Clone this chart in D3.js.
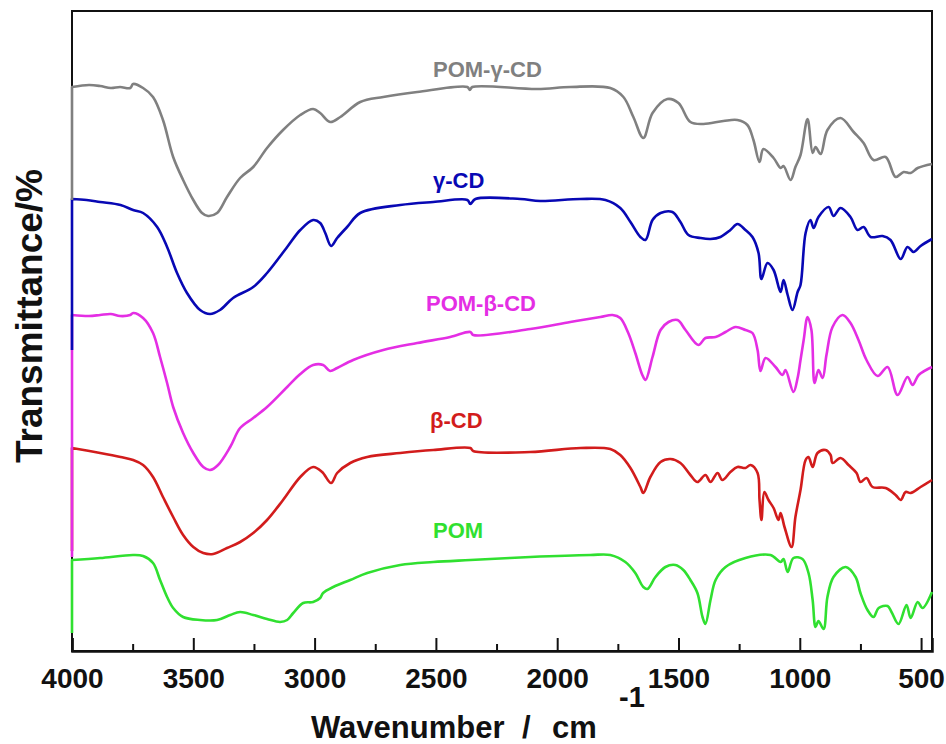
<!DOCTYPE html>
<html>
<head>
<meta charset="utf-8">
<script src="https://cdn.jsdelivr.net/npm/d3@7"></script>
<style>
  body { margin: 0; background: #fff; }
  svg text { font-family: "Liberation Sans", Arial, sans-serif; font-weight: bold; }
</style>
</head>
<body>
<div class="chart"></div>
<script>
// FTIR spectra, [wavenumber cm-1, transmittance (a.u., offset per trace)]
var pomGammaCD = [[4000,451],[4000,564],[3930,566],[3884,565],[3840,563],[3802,564],[3760,563],[3748,567],[3707,563],[3666,554],[3625,531],[3583,494],[3542,471],[3500,451],[3464,438],[3439,435],[3402,438],[3361,454],[3307,473],[3253,484],[3196,503],[3130,521],[3059,536],[3006,542],[2977,538],[2936,529],[2894,534],[2812,549],[2717,554],[2577,559],[2370,564],[2360,561],[2350,564],[2082,562],[1946,564],[1781,563],[1727,554],[1686,534],[1645,513],[1607,538],[1546,552],[1500,548],[1451,529],[1397,527],[1315,530],[1257,531],[1216,526],[1191,511],[1166,489],[1150,502],[1108,493],[1079,483],[1067,485],[1038,471],[1018,484],[997,496],[968,532],[947,498],[935,504],[914,497],[886,521],[832,533],[778,519],[737,508],[696,491],[646,494],[605,474],[572,479],[543,478],[514,483],[455,487]];

var gammaCD = [[4000,301],[4000,452],[3940,451],[3884,449],[3800,446],[3748,441],[3707,438],[3649,424],[3608,404],[3567,378],[3526,358],[3472,341],[3431,337],[3390,341],[3336,353],[3253,364],[3196,378],[3113,404],[3059,421],[3006,431],[2977,428],[2956,418],[2932,405],[2907,413],[2866,424],[2812,438],[2647,446],[2511,449],[2370,451],[2358,447],[2337,452],[2152,452],[2070,450],[1904,452],[1801,451],[1740,443],[1698,429],[1657,414],[1636,411],[1607,431],[1574,438],[1525,439],[1492,429],[1459,416],[1409,413],[1368,412],[1327,414],[1286,421],[1257,427],[1224,421],[1195,414],[1170,398],[1158,372],[1133,388],[1108,381],[1079,359],[1067,371],[1050,356],[1030,341],[1009,359],[997,366],[976,418],[956,431],[943,423],[923,434],[881,444],[861,435],[832,443],[791,434],[762,421],[737,424],[708,414],[659,415],[626,411],[584,392],[556,404],[531,399],[502,405],[455,412]];

var pomBetaCD = [[4000,94],[4000,336],[3930,335],[3884,336],[3840,337],[3802,335],[3760,336],[3748,338],[3707,333],[3666,318],[3637,294],[3608,268],[3583,244],[3542,218],[3500,198],[3459,184],[3431,181],[3398,186],[3348,204],[3307,223],[3253,233],[3196,244],[3113,264],[3059,277],[3006,286],[2965,286],[2936,280],[2907,283],[2841,291],[2717,301],[2577,308],[2441,314],[2358,319],[2346,316],[2111,322],[1946,329],[1822,334],[1772,336],[1740,333],[1707,318],[1678,298],[1649,276],[1636,271],[1607,294],[1574,321],[1541,329],[1504,331],[1471,321],[1418,306],[1389,313],[1347,314],[1306,319],[1265,324],[1224,321],[1195,318],[1174,301],[1162,280],[1141,293],[1100,284],[1071,276],[1059,281],[1026,259],[1009,273],[997,291],[984,311],[968,334],[952,321],[939,268],[923,281],[906,273],[890,296],[865,324],[824,336],[791,328],[758,311],[725,291],[679,275],[638,284],[597,256],[556,274],[535,266],[510,276],[455,284]];

var betaCD = [[4000,100],[4000,203],[3884,198],[3800,194],[3748,191],[3707,186],[3666,174],[3625,154],[3583,134],[3542,116],[3500,104],[3459,98],[3418,97],[3361,103],[3307,109],[3253,118],[3196,131],[3130,151],[3059,174],[3006,184],[2969,179],[2932,168],[2907,178],[2853,188],[2783,194],[2647,198],[2511,201],[2358,203],[2346,200],[2111,199],[1904,203],[1781,202],[1740,196],[1698,183],[1657,164],[1645,158],[1616,174],[1574,189],[1533,192],[1492,188],[1451,176],[1422,169],[1389,176],[1368,169],[1339,178],[1319,171],[1286,179],[1257,184],[1224,183],[1203,186],[1174,178],[1166,151],[1158,131],[1146,159],[1129,151],[1108,143],[1088,131],[1079,138],[1063,124],[1034,104],[1018,134],[997,161],[976,191],[964,194],[947,184],[927,198],[894,201],[873,196],[865,188],[832,193],[799,186],[766,178],[750,169],[725,173],[700,164],[646,163],[605,156],[584,151],[564,159],[543,158],[502,164],[455,171]];

var pom = [[4000,18],[4000,91],[3884,93],[3748,96],[3707,95],[3666,88],[3637,71],[3608,54],[3583,43],[3542,34],[3472,31],[3402,31],[3348,36],[3307,39],[3253,36],[3196,32],[3142,29],[3113,31],[3088,38],[3047,48],[3006,49],[2977,53],[2965,58],[2923,64],[2853,71],[2783,78],[2647,86],[2511,89],[2358,91],[2111,94],[1863,96],[1781,96],[1719,89],[1678,78],[1645,64],[1628,62],[1595,74],[1554,84],[1513,86],[1480,81],[1451,71],[1422,58],[1401,34],[1389,27],[1368,51],[1347,71],[1306,84],[1224,93],[1121,96],[1079,89],[1067,92],[1050,79],[1026,93],[989,92],[964,78],[947,51],[935,24],[923,30],[902,22],[886,54],[861,74],[811,84],[770,74],[750,58],[721,41],[696,34],[675,43],[638,45],[622,39],[593,27],[560,46],[543,33],[514,49],[494,43],[455,59]];

var spectra = [pomGammaCD, gammaCD, pomBetaCD, betaCD, pom];
var seriesNames = ["POM-\u03b3-CD", "\u03b3-CD", "POM-\u03b2-CD", "\u03b2-CD", "POM"];
var seriesColors = ["#808080", "#0808b4", "#e42ee4", "#d21c1c", "#30e030"];

var majorTicks = [4000, 3500, 3000, 2500, 2000, 1500, 1000, 500];
var minorTicks = [3750, 3250, 2750, 2250, 1750, 1250, 750];

// Layout
var svgWidth = 946;
var svgHeight = 744;
var margin = { top: 11, right: 14, bottom: 93, left: 72 };
var width = svgWidth - margin.left - margin.right;
var height = svgHeight - margin.top - margin.bottom;

var svg = d3.select(".chart")
  .append("svg")
  .attr("width", svgWidth)
  .attr("height", svgHeight);

var chart = svg.append("g")
  .attr("transform", "translate(" + margin.left + "," + margin.top + ")");

var xScale = d3.scaleLinear().domain([4000, 455]).range([0, width]);
var yScale = d3.scaleLinear().domain([0, 640]).range([height, 0]);

// Frame
chart.append("rect")
  .attr("width", width)
  .attr("height", height)
  .attr("fill", "none")
  .attr("stroke", "#111")
  .attr("stroke-width", 2);

// Spectra: straight rise at 4000, smooth curve after it.
// Bottom trace first so the upper ones sit on top.
var startLine = d3.line()
  .x(function(d) { return xScale(d[0]); })
  .y(function(d) { return yScale(d[1]); });

var smoothLine = d3.line()
  .curve(d3.curveCatmullRom.alpha(0.5))
  .x(function(d) { return xScale(d[0]); })
  .y(function(d) { return yScale(d[1]); });

d3.range(spectra.length).reverse().forEach(function(i) {
  var d = spectra[i];
  var path = startLine(d.slice(0, 2)) + smoothLine(d.slice(1)).replace(/^M/, "L");
  chart.append("path")
    .attr("d", path)
    .attr("fill", "none")
    .attr("stroke", seriesColors[i])
    .attr("stroke-width", 2.6)
    .attr("stroke-linejoin", "round");
});

// Trace labels
var labelPos = [[433, 77], [433, 188], [426, 311], [430, 428], [433, 538]];
seriesNames.forEach(function(name, i) {
  svg.append("text")
    .attr("x", labelPos[i][0])
    .attr("y", labelPos[i][1])
    .attr("fill", seriesColors[i])
    .attr("font-size", "22px")
    .text(name);
});

// Bottom axis with inward ticks
var bottomAxis = d3.axisBottom(xScale)
  .tickValues(majorTicks)
  .tickSize(-13)
  .tickPadding(17)
  .tickFormat(d3.format("d"));

var xAxis = chart.append("g")
  .attr("transform", "translate(0," + height + ")")
  .call(bottomAxis);
xAxis.select(".domain").attr("stroke", "#111").attr("stroke-width", 2.5);
xAxis.selectAll(".tick line").attr("stroke", "#111").attr("stroke-width", 2);
xAxis.selectAll("text")
  .attr("fill", "#111")
  .attr("font-size", "28px")
  .style("font-family", "'Liberation Sans', Arial, sans-serif")
  .style("font-weight", "bold");

var minorAxis = chart.append("g")
  .attr("transform", "translate(0," + height + ")")
  .call(d3.axisBottom(xScale).tickValues(minorTicks).tickSize(-7).tickFormat(""));
minorAxis.select(".domain").remove();
minorAxis.selectAll(".tick line").attr("stroke", "#111").attr("stroke-width", 2);

// Axis titles
var xTitle = svg.append("text")
  .attr("y", 738)
  .attr("font-size", "31px")
  .attr("fill", "#111");
xTitle.append("tspan").attr("x", 311).text("Wavenumber");
xTitle.append("tspan").attr("x", 522).text("/");
xTitle.append("tspan").attr("x", 552).text("cm");

svg.append("text")
  .attr("x", 619)
  .attr("y", 707)
  .attr("font-size", "29px")
  .attr("fill", "#111")
  .text("-1");

svg.append("text")
  .attr("transform", "translate(42,316) rotate(-90)")
  .attr("text-anchor", "middle")
  .attr("font-size", "37px")
  .attr("fill", "#111")
  .text("Transmittance/%");
</script>
</body>
</html>
